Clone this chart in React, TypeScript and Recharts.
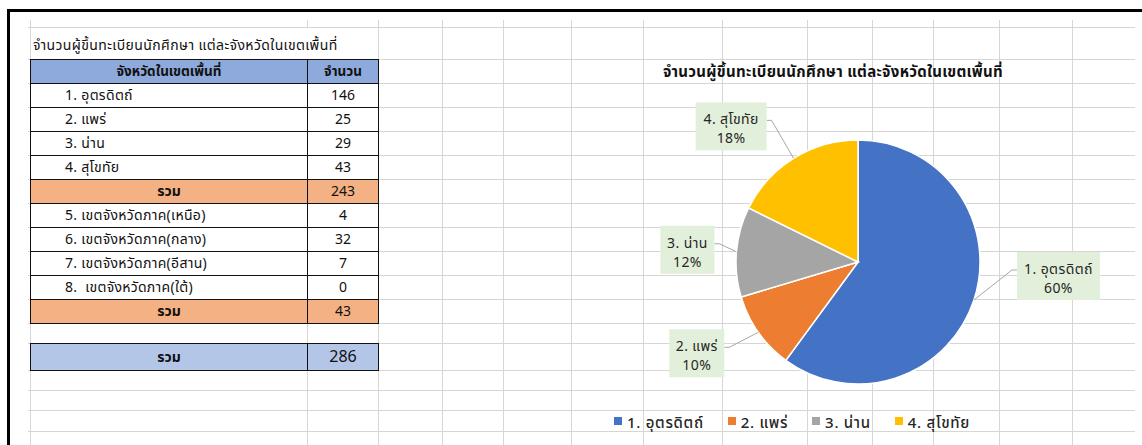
import React from 'react'
import { PieChart, Pie, Cell, Legend } from 'recharts'

// --- data read from the sheet ---
const sheetTitle = 'จำนวนผู้ขึ้นทะเบียนนักศึกษา แต่ละจังหวัดในเขตเพื้นที่'
const headerLabels = ['จังหวัดในเขตเพื้นที่', 'จำนวน']
const provinces = ['1. อุตรดิตถ์', '2. แพร่', '3. น่าน', '4. สุโขทัย']
const provinceCounts = [146, 25, 29, 43]
const regions = ['5. เขตจังหวัดภาค(เหนือ)', '6. เขตจังหวัดภาค(กลาง)', '7. เขตจังหวัดภาค(อีสาน)', '8.  เขตจังหวัดภาค(ใต้)']
const regionCounts = [4, 32, 7, 0]
const sumLabel = 'รวม'
const colors = ['#4472C4', '#ED7D31', '#A5A5A5', '#FFC000']

// --- sheet layout ---
const FONT = "Tahoma, 'Leelawadee UI', 'Noto Sans Thai', 'Noto Sans', sans-serif"
const gridRows = [27, 59, 83, 107, 131, 155, 179, 203, 227, 251, 275, 299, 323, 343, 370, 390, 410, 431]
const gridCols = [30, 307, 378, 442, 503, 571, 643, 722, 807, 872, 933, 999, 1072]
// label box offsets from each slice's outer edge point, and box widths
const labelLayout = [
  { dx: 43, dy: -48, w: 83 },
  { dx: -89, dy: -3, w: 55 },
  { dx: -76, dy: -26, w: 54 },
  { dx: -98, dy: -56, w: 71 },
]

const sum = (a: number[]) => a.reduce((s, v) => s + v, 0)
const pieData = provinces.map((name, i) => ({ name, value: provinceCounts[i] }))

const RAD = Math.PI / 180

function renderLabel(props: any) {
  const { cx, cy, midAngle, outerRadius, percent, index, name } = props
  const ex = cx + outerRadius * Math.cos(-midAngle * RAD)
  const ey = cy + outerRadius * Math.sin(-midAngle * RAD)
  const lay = labelLayout[index]
  const bx = ex + lay.dx
  const by = ey + lay.dy
  const h = 48
  const right = bx > cx
  const lx = right ? bx : bx + lay.w
  const ly = by + 18
  const kx = right ? lx - 5 : lx + 5
  const txt = { textAnchor: 'middle' as const, fontSize: 14, fill: '#262626', fontFamily: FONT, letterSpacing: 0.4 }
  return (
    <g key={index}>
      <polyline points={`${lx},${ly} ${kx},${ly} ${ex},${ey}`} fill="none" stroke="#A6A6A6" strokeWidth={1} />
      <rect x={bx} y={by} width={lay.w} height={h} fill="#E2EFDA" />
      <text x={bx + lay.w / 2} y={by + 22} {...txt}>
        {name}
      </text>
      <text x={bx + lay.w / 2} y={by + 41} {...txt}>
        {Math.round(percent * 100)}%
      </text>
    </g>
  )
}

function LegendContent() {
  return (
    <div style={{ display: 'flex', alignItems: 'center', fontFamily: FONT, fontSize: 15, fontWeight: 500, color: '#262626', letterSpacing: 0.7 }}>
      {provinces.map((p, i) => (
        <div key={p} style={{ display: 'flex', alignItems: 'center', marginRight: 24 }}>
          <span style={{ width: 8, height: 8, background: colors[i], marginRight: 5, marginTop: -5 }} />
          <span>{p}</span>
        </div>
      ))}
    </div>
  )
}

type Row = { label: string; value: number | string; kind: 'head' | 'data' | 'sum' }

export default function App() {
  const rows: Row[] = [
    { label: headerLabels[0], value: headerLabels[1], kind: 'head' },
    ...provinces.map((p, i) => ({ label: p, value: provinceCounts[i], kind: 'data' as const })),
    { label: sumLabel, value: sum(provinceCounts), kind: 'sum' },
    ...regions.map((r, i) => ({ label: r, value: regionCounts[i], kind: 'data' as const })),
    { label: sumLabel, value: sum(regionCounts), kind: 'sum' },
  ]
  const total = sum(provinceCounts) + sum(regionCounts)

  return (
    <div style={{ position: 'absolute', left: 0, top: 0, width: 1142, height: 445, background: '#fff', overflow: 'hidden', fontFamily: FONT }}>
      {/* gridlines */}
      {gridRows.map((y) => (
        <div key={'r' + y} style={{ position: 'absolute', left: 28, top: y, width: 1107, height: 1, background: '#D6D6D6' }} />
      ))}
      {gridCols.map((x) => (
        <div key={'c' + x} style={{ position: 'absolute', left: x, top: 20, width: 1, height: 425, background: '#D6D6D6' }} />
      ))}
      {/* sheet frame */}
      <div style={{ position: 'absolute', left: 7, top: 9, width: 1135, height: 3, background: '#000' }} />
      <div style={{ position: 'absolute', left: 7, top: 9, width: 3, height: 436, background: '#000' }} />

      {/* table title */}
      <div style={{ position: 'absolute', left: 31, top: 28, width: 346, height: 31, background: '#fff' }} />
      <div style={{ position: 'absolute', left: 33, top: 35, fontSize: 14, letterSpacing: 0.4, color: '#111', whiteSpace: 'pre' }}>{sheetTitle}</div>

      {/* table rows */}
      {rows.map((r, i) => {
        const bg = r.kind === 'head' ? '#8EA9DB' : r.kind === 'sum' ? '#F4B183' : '#fff'
        return (
          <div
            key={i}
            style={{
              position: 'absolute', left: 30, top: 59 + i * 24, width: 349, height: 25, boxSizing: 'border-box',
              border: '1px solid #111', background: bg, display: 'flex', fontSize: 14, color: '#111',
            }}
          >
            <div
              style={{
                width: 277, boxSizing: 'border-box', borderRight: '1px solid #111', display: 'flex', alignItems: 'center',
                justifyContent: r.kind === 'data' ? 'flex-start' : 'center', paddingLeft: r.kind === 'data' ? 34 : 0,
                whiteSpace: 'pre', fontWeight: r.kind === 'data' ? 400 : 700, letterSpacing: r.kind === 'data' ? 0.3 : 0,
                fontSize: r.kind === 'head' ? 13.5 : 14,
              }}
            >
              {r.label}
            </div>
            <div style={{ flex: 1, display: 'flex', alignItems: 'center', justifyContent: 'center', fontWeight: r.kind === 'head' ? 700 : 400, fontSize: r.kind === 'head' ? 13.5 : 14 }}>
              {r.value}
            </div>
          </div>
        )
      })}
      {/* grand total */}
      <div
        style={{
          position: 'absolute', left: 30, top: 343, width: 349, height: 28, boxSizing: 'border-box',
          border: '1px solid #111', background: '#B4C6E7', display: 'flex', fontSize: 14, color: '#111',
        }}
      >
        <div style={{ width: 277, boxSizing: 'border-box', borderRight: '1px solid #111', display: 'flex', alignItems: 'center', justifyContent: 'center', fontWeight: 700 }}>
          {sumLabel}
        </div>
        <div style={{ flex: 1, display: 'flex', alignItems: 'center', justifyContent: 'center', fontSize: 16 }}>{total}</div>
      </div>

      {/* pie chart */}
      <div style={{ position: 'absolute', left: 590, top: 30 }}>
        <PieChart width={545} height={415}>
          <text x={243} y={47} textAnchor="middle" fontSize={15} fontWeight={700} letterSpacing={0.3} fill="#111" fontFamily={FONT}>
            {sheetTitle}
          </text>
          <Pie
            data={pieData}
            dataKey="value"
            nameKey="name"
            cx={263}
            cy={227}
            outerRadius={122}
            startAngle={90}
            endAngle={-270}
            stroke="#fff"
            strokeWidth={1.5}
            label={renderLabel}
            labelLine={false}
            isAnimationActive={false}
          >
            {pieData.map((d, i) => (
              <Cell key={d.name} fill={colors[i]} />
            ))}
          </Pie>
          <Legend content={<LegendContent />} wrapperStyle={{ left: 24, top: 382, width: 520 }} />
        </PieChart>
      </div>
    </div>
  )
}
